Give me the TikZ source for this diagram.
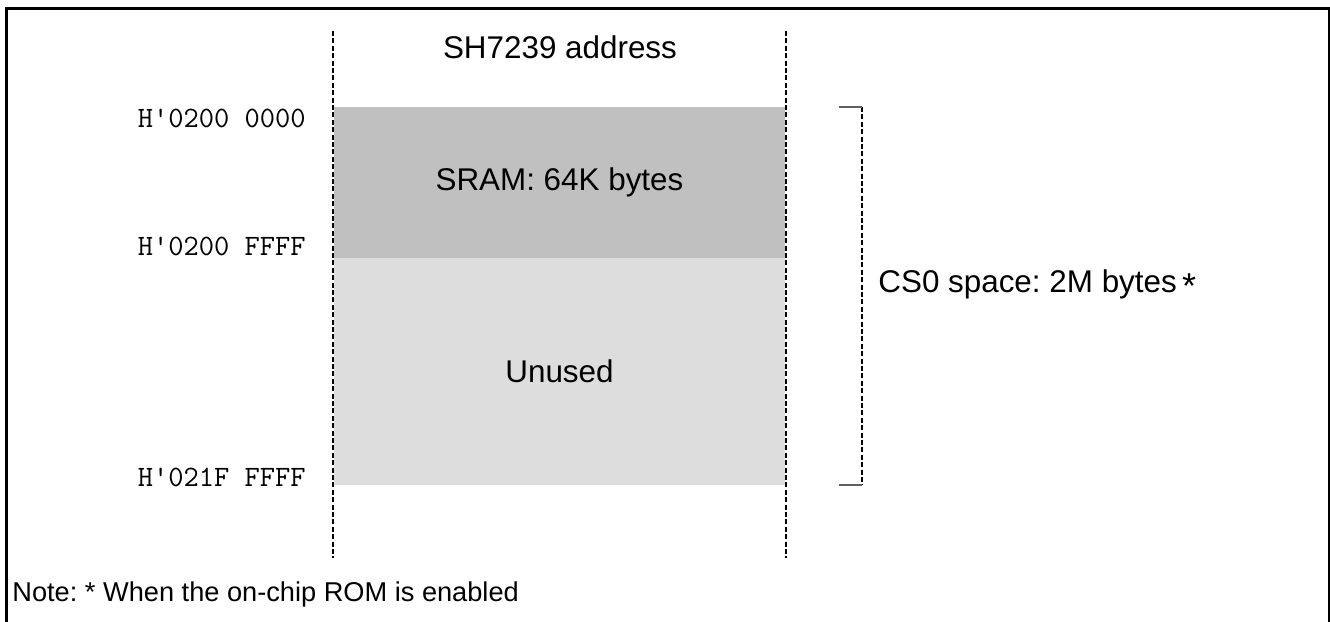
\documentclass[tikz,border=0pt]{standalone}
\usepackage{fontspec}
\setmainfont{Liberation Sans}
\usepackage{tikz}
\usetikzlibrary{positioning}
\definecolor{sramgray}{HTML}{C0C0C0}
\definecolor{unusedgray}{HTML}{DDDDDD}
\definecolor{tickgray}{HTML}{606060}
\frenchspacing
\tikzset{
	guide/.style = {draw=black, line width=0.7pt, dash pattern=on 2.5pt off 1.2pt},
	tickline/.style = {draw=tickgray, line width=0.6pt},
	addr/.style = {font=\fontsize{14.8}{17}\selectfont\ttfamily, anchor=east, inner sep=0pt},
	areatext/.style = {font=\fontsize{15.7}{18}\selectfont, inner sep=0pt},
	region/.style = {areatext, outer sep=0pt, minimum width=225.5pt},
}

\begin{document}
\begin{tikzpicture}[x=0.5pt,y=-0.5pt]
	\useasboundingbox (0,0) rectangle (1330,622);
	\draw[line width=1.5pt] (6.7,622) -- (6.7,8.3) -- (1329,8.3) -- (1329,622);

	\node[region, fill=sramgray, minimum height=75.5pt, anchor=north west] (sram) at (334,107) {SRAM: 64K bytes};
	\node[region, fill=unusedgray, minimum height=113.5pt, below=0pt of sram] (unused) {Unused};

	\coordinate (lt) at (333,31);
	\coordinate (lb) at (333,558);
	\coordinate (rt) at (786,31);
	\coordinate (rb) at (786,558);
	\draw[guide] (lt) -- (lb);
	\draw[guide] (rt) -- (rb);

	\node[areatext] (title) at (560,47) {SH7239 address};

	\node[addr] (a0) at (306,118) {H'0200 0000};
	\node[addr] (a1) at (306,246) {H'0200 FFFF};
	\node[addr] (a2) at (306,477) {H'021F FFFF};

	% CS0 bracket
	\coordinate (bt) at (862,107);
	\coordinate (bb) at (862,485);
	\coordinate (tt) at (839,107);
	\coordinate (tb) at (839,485);
	\draw[guide] (bt) -- (bb);
	\draw[tickline] (tt) -- (bt);
	\draw[tickline] (tb) -- (bb);
	\node[areatext, anchor=west] (cs0) at (878,284) {CS0 space: 2M bytes\,\raisebox{-0.2em}{\fontsize{18}{18}\selectfont *}};

	\node[font=\fontsize{13.6}{16}\selectfont, inner sep=0pt, anchor=west] (note) at (12,594) {Note: * When the on-chip ROM is enabled};
\end{tikzpicture}
\end{document}
